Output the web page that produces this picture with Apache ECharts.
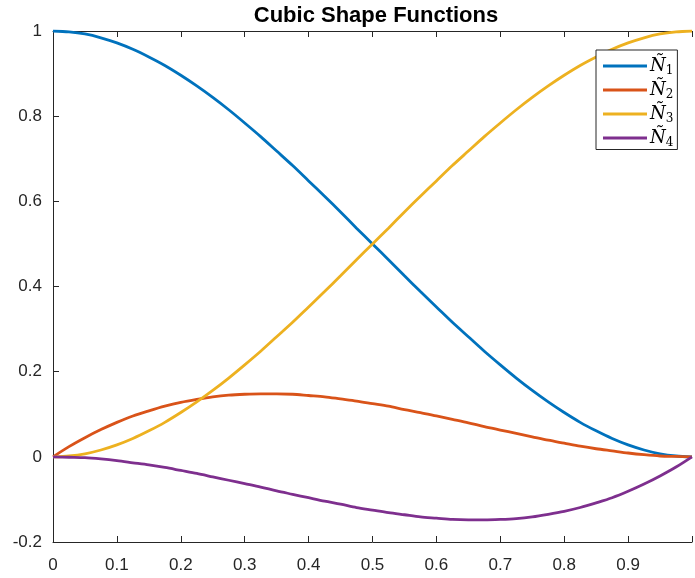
<!DOCTYPE html>
<html>
<head>
<meta charset="utf-8">
<script src="https://cdn.jsdelivr.net/npm/echarts@6/dist/echarts.min.js"></script>
<style>
html,body{margin:0;padding:0;background:#fff;}
#chart{width:695px;height:578px;}
</style>
</head>
<body>
<div id="chart"></div>
<script>
var xValues = [0, 0.025, 0.05, 0.075, 0.1, 0.125, 0.15, 0.175, 0.2, 0.225, 0.25, 0.275, 0.3, 0.325, 0.35, 0.375, 0.4, 0.425, 0.45, 0.475, 0.5, 0.525, 0.55, 0.575, 0.6, 0.625, 0.65, 0.675, 0.7, 0.725, 0.75, 0.775, 0.8, 0.825, 0.85, 0.875, 0.9, 0.925, 0.95, 0.975, 1];
var n1Values = [1, 0.998, 0.993, 0.984, 0.972, 0.957, 0.939, 0.919, 0.896, 0.871, 0.844, 0.815, 0.784, 0.752, 0.718, 0.684, 0.648, 0.612, 0.575, 0.537, 0.5, 0.463, 0.425, 0.388, 0.352, 0.316, 0.282, 0.248, 0.216, 0.185, 0.156, 0.129, 0.104, 0.081, 0.061, 0.043, 0.028, 0.016, 0.007, 0.002, 0];
var n2Values = [0, 0.024, 0.045, 0.064, 0.081, 0.096, 0.108, 0.119, 0.128, 0.135, 0.141, 0.145, 0.147, 0.148, 0.148, 0.147, 0.144, 0.141, 0.136, 0.131, 0.125, 0.119, 0.111, 0.104, 0.096, 0.088, 0.080, 0.071, 0.063, 0.055, 0.047, 0.039, 0.032, 0.025, 0.019, 0.014, 0.009, 0.005, 0.002, 0.001, 0];
var n3Values = [0, 0.002, 0.007, 0.016, 0.028, 0.043, 0.061, 0.081, 0.104, 0.129, 0.156, 0.185, 0.216, 0.248, 0.282, 0.316, 0.352, 0.388, 0.425, 0.463, 0.5, 0.537, 0.575, 0.612, 0.648, 0.684, 0.718, 0.752, 0.784, 0.815, 0.844, 0.871, 0.896, 0.919, 0.939, 0.957, 0.972, 0.984, 0.993, 0.998, 1];
var n4Values = [0, -0.001, -0.002, -0.005, -0.009, -0.014, -0.019, -0.025, -0.032, -0.039, -0.047, -0.055, -0.063, -0.071, -0.080, -0.088, -0.096, -0.104, -0.111, -0.119, -0.125, -0.131, -0.136, -0.141, -0.144, -0.147, -0.148, -0.148, -0.147, -0.145, -0.141, -0.135, -0.128, -0.119, -0.108, -0.096, -0.081, -0.064, -0.045, -0.024, 0];
var seriesNames = ['N1', 'N2', 'N3', 'N4'];
var seriesColors = ['#0072BD', '#D95319', '#EDB120', '#7E2F8E'];
var xTickLabels = ['0', '0.1', '0.2', '0.3', '0.4', '0.5', '0.6', '0.7', '0.8', '0.9', ''];
var titleText = 'Cubic Shape Functions';

function pairs(ys) {
  return xValues.map(function (x, i) { return [x, ys[i]]; });
}
var allValues = [n1Values, n2Values, n3Values, n4Values];
var axisColor = '#262626';
var tickFont = { color: axisColor, fontSize: 17, fontFamily: 'Liberation Sans, Arial, sans-serif' };

var chart = echarts.init(document.getElementById('chart'), null, { renderer: 'canvas' });
chart.setOption({
  animation: false,
  backgroundColor: '#fff',
  title: {
    text: titleText,
    left: 371, textAlign: 'center', top: 0,
    textStyle: { fontSize: 22, fontWeight: 'bold', color: '#000', fontFamily: 'Liberation Sans, Arial, sans-serif' }
  },
  grid: { left: 53, top: 31, width: 645, height: 511, containLabel: false },
  legend: {
    left: 596, top: 50,
    orient: 'vertical',
    icon: 'rect', itemWidth: 44, itemHeight: 3, itemGap: 4.5,
    padding: [7, 4, 1, 7],
    borderColor: '#262626', borderWidth: 1, backgroundColor: '#fff',
    data: seriesNames,
    formatter: function (name) { return '{n|Ñ}{s|' + name.slice(1) + '}'; },
    textStyle: {
      padding: [0, 0, 0, -2],
      rich: {
        n: { fontFamily: 'DejaVu Serif, serif', fontStyle: 'italic', fontSize: 18, color: '#000', height: 24, verticalAlign: 'middle' },
        s: { fontFamily: 'DejaVu Serif, serif', fontSize: 12, color: '#000', height: 24, verticalAlign: 'bottom', padding: [9, 0, 0, 0] }
      }
    }
  },
  xAxis: [{
    type: 'value', min: 0, max: 1, interval: 0.1,
    axisLine: { show: true, onZero: false, lineStyle: { color: axisColor, width: 1 } },
    axisTick: { show: true, inside: true, length: 6, lineStyle: { color: axisColor } },
    axisLabel: Object.assign({ margin: 15, formatter: function (v, i) { return xTickLabels[i]; } }, tickFont),
    splitLine: { show: false }
  }, {
    type: 'value', min: 0, max: 1, interval: 0.1, position: 'top',
    axisLine: { show: true, onZero: false, lineStyle: { color: axisColor, width: 1 } },
    axisTick: { show: true, inside: true, length: 6, lineStyle: { color: axisColor } },
    axisLabel: { show: false }, splitLine: { show: false }
  }],
  yAxis: [{
    type: 'value', min: -0.2, max: 1, interval: 0.2,
    axisLine: { show: true, onZero: false, lineStyle: { color: axisColor, width: 1 } },
    axisTick: { show: true, inside: true, length: 6, lineStyle: { color: axisColor } },
    axisLabel: Object.assign({ margin: 11 }, tickFont),
    splitLine: { show: false }
  }],
  series: seriesNames.map(function (name, k) {
    return {
      name: name, type: 'line', smooth: 0.3, showSymbol: false,
      data: pairs(allValues[k]),
      lineStyle: { color: seriesColors[k], width: 2.8 },
      itemStyle: { color: seriesColors[k] },
      clip: true
    };
  })
});
</script>
</body>
</html>
